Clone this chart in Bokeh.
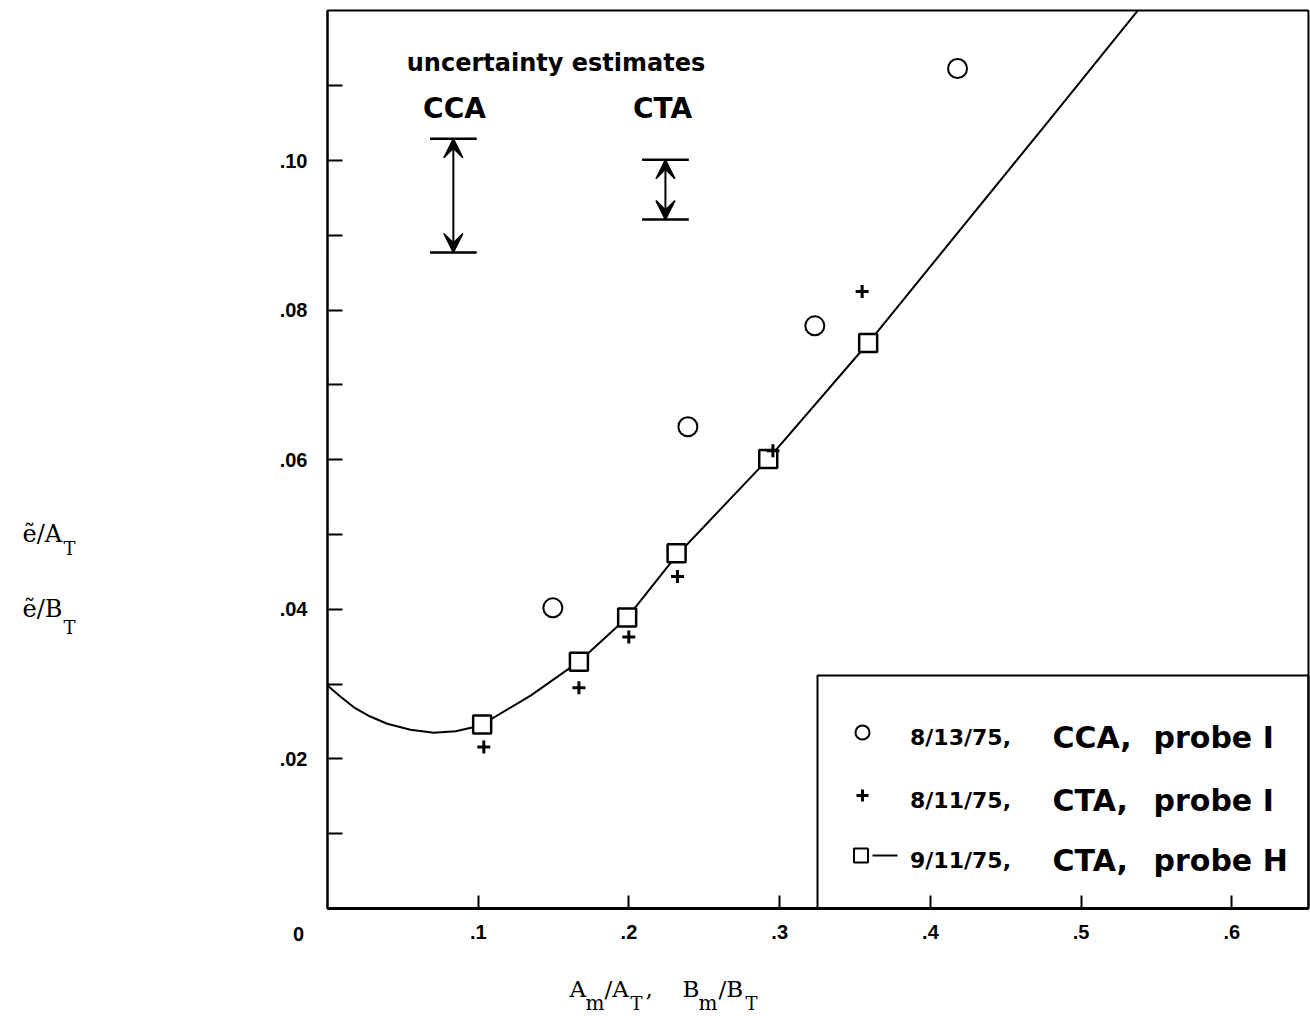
from bokeh.plotting import figure
from bokeh.models import (Range1d, FixedTicker, Label, Arrow, VeeHead,
                          BoxAnnotation, ColumnDataSource)
from bokeh.embed import file_html
from bokeh.resources import INLINE

# ---------------- data ----------------
# 8/13/75, CCA, probe I  (circles)
cca_x = [0.1495, 0.2391, 0.3233, 0.4180]
cca_y = [0.0402, 0.0644, 0.0779, 0.1123]
# 8/11/75, CTA, probe I  (plus signs)
ctai_x = [0.1037, 0.1668, 0.1999, 0.2322, 0.2955, 0.3547]
ctai_y = [0.0216, 0.0295, 0.0363, 0.0444, 0.0612, 0.0825]
# 9/11/75, CTA, probe H  (squares + curve)
ctah_x = [0.1026, 0.1668, 0.1988, 0.2316, 0.2924, 0.3587]
ctah_y = [0.0246, 0.0330, 0.0389, 0.0475, 0.0601, 0.0756]
# faired curve through probe H data
curve_x = [0.0, 0.0087, 0.0175, 0.0280, 0.0396, 0.0550, 0.0705, 0.0850,
           0.0960, 0.1026, 0.1350, 0.1668, 0.1988, 0.2316, 0.2924, 0.3587,
           0.4797, 0.5374]
curve_y = [0.0298, 0.0283, 0.0269, 0.0257, 0.0247, 0.0239, 0.0235, 0.0237,
           0.0242, 0.0246, 0.0285, 0.0330, 0.0389, 0.0472, 0.0601, 0.0756,
           0.1056, 0.1200]
# uncertainty estimates
unc_names = ["CCA", "CTA"]
unc_x = [0.0835, 0.2242]
unc_lo = [0.0877, 0.0921]
unc_hi = [0.1029, 0.1001]
# ticks
x_ticks = [0.1, 0.2, 0.3, 0.4, 0.5, 0.6]
x_tick_labels = [".1", ".2", ".3", ".4", ".5", ".6"]
y_ticks = [0.01, 0.02, 0.03, 0.04, 0.05, 0.06, 0.07, 0.08, 0.09, 0.10, 0.11]
y_tick_labels = ["", ".02", "", ".04", "", ".06", "", ".08", "", ".10", ""]
# legend
legend_dates = ["8/13/75,", "8/11/75,", "9/11/75,"]
legend_methods = ["CCA,", "CTA,", "CTA,"]
legend_probes = ["probe I", "probe I", "probe H"]

X_MAX, Y_MAX = 0.6508, 0.12005   # extent of the plotting box

# ---------------- layout helpers ----------------
X0_PX, XS = 327.0, 1507.3      # page pixel of x=0, pixels per unit
Y0_PX, YS = 908.0, 7480.0      # page pixel of y=0, pixels per unit
OFF = 0                        # page offset of the canvas


def px2x(px):
    return (px - X0_PX) / XS


def px2y(py):
    return (Y0_PX - py) / YS


W, H = 1310, 1018
p = figure(width=W, height=H, output_backend="svg", toolbar_location=None,
           x_range=Range1d(px2x(OFF), px2x(OFF + W)),
           y_range=Range1d(px2y(OFF + H), px2y(OFF)),
           min_border=0)
p.grid.visible = False
p.outline_line_color = None
p.background_fill_color = "white"
p.border_fill_color = "white"

TICK_FONT = "Liberation Sans"
LETTER_FONT = "DejaVu Sans"
SERIF_FONT = "DejaVu Serif"

# x axis
p.xaxis.fixed_location = 0
p.xaxis.bounds = (0, X_MAX)
p.xaxis.ticker = FixedTicker(ticks=x_ticks, minor_ticks=[])
p.xaxis.major_label_overrides = dict(zip(x_ticks, x_tick_labels))
p.xaxis.major_tick_in = 13
p.xaxis.major_tick_out = 0
p.xaxis.major_tick_line_width = 2
p.xaxis.axis_line_width = 3
p.xaxis.major_label_standoff = 16
p.xaxis.major_label_text_font = TICK_FONT
p.xaxis.major_label_text_font_style = "bold"
p.xaxis.major_label_text_font_size = "20px"
p.xaxis.major_label_text_color = "black"

# y axis
p.yaxis.fixed_location = 0
p.yaxis.bounds = (0, Y_MAX)
p.yaxis.ticker = FixedTicker(ticks=y_ticks, minor_ticks=[])
p.yaxis.major_label_overrides = dict(zip(y_ticks, y_tick_labels))
p.yaxis.major_tick_in = 15
p.yaxis.major_tick_out = 0
p.yaxis.major_tick_line_width = 2
p.yaxis.axis_line_width = 2
p.yaxis.major_label_standoff = 20
p.yaxis.major_label_text_font = TICK_FONT
p.yaxis.major_label_text_font_style = "bold"
p.yaxis.major_label_text_font_size = "20px"
p.yaxis.major_label_text_color = "black"

# plotting box (top and right edges)
p.add_layout(BoxAnnotation(left=0, right=X_MAX, bottom=0, top=Y_MAX,
                           fill_color=None, line_color="black",
                           line_alpha=1, line_width=2, level="underlay"))

# ---------------- data glyphs ----------------
p.line(curve_x, curve_y, line_color="black", line_width=2)
p.scatter(cca_x, cca_y, marker="circle", size=19, fill_color="white",
          line_color="black", line_width=2)
p.scatter(ctah_x, ctah_y, marker="square", size=18, fill_color="white",
          line_color="black", line_width=2.5)
p.scatter(ctai_x, ctai_y, marker="cross", size=13, line_color="black",
          line_width=3)

# ---------------- uncertainty bars ----------------
cap_half = 0.0155
usrc = ColumnDataSource(dict(
    x=unc_x, lo=unc_lo, hi=unc_hi,
    x0=[v - cap_half for v in unc_x], x1=[v + cap_half for v in unc_x]))
p.segment(x0="x0", y0="hi", x1="x1", y1="hi", source=usrc,
          line_color="black", line_width=2.5)
p.segment(x0="x0", y0="lo", x1="x1", y1="lo", source=usrc,
          line_color="black", line_width=2.5)


def head():
    return VeeHead(size=19, fill_color="black", fill_alpha=1,
                   line_color="black", line_alpha=1, line_width=1.5)


p.add_layout(Arrow(start=head(), end=head(),
                   x_start="x", y_start="lo", x_end="x", y_end="hi",
                   source=usrc, line_color="black", line_width=2))


def lab(text, px, py, size, font, align="left", style="bold",
        baseline="alphabetic"):
    p.add_layout(Label(x=px2x(px), y=px2y(py), text=text, text_font=font,
                       text_font_size=f"{size}px", text_font_style=style,
                       text_align=align, text_baseline=baseline,
                       text_color="black"))


lab("uncertainty estimates", 555.5, 62, 24, LETTER_FONT, align="center")
lab(unc_names[0], 454, 108, 28, LETTER_FONT, align="center")
lab(unc_names[1], 662, 108, 28, LETTER_FONT, align="center")

# ---------------- legend ----------------
p.add_layout(BoxAnnotation(left=px2x(817), right=X_MAX, bottom=0,
                           top=px2y(675), fill_color=None,
                           line_color="black", line_alpha=1, line_width=2))
p.scatter([px2x(862)], [px2y(732)], marker="circle", size=14,
          fill_color="white", line_color="black", line_width=2)
p.scatter([px2x(862)], [px2y(795)], marker="cross", size=12,
          line_color="black", line_width=3)
p.scatter([px2x(860.5)], [px2y(855)], marker="square", size=14,
          fill_color="white", line_color="black", line_width=2)
p.line([px2x(872), px2x(897)], [px2y(855), px2y(855)], line_color="black",
       line_width=2)
row_base = [737, 800, 860]
for i in range(3):
    lab(legend_dates[i], 960, row_base[i], 22, LETTER_FONT, align="center")
    lab(legend_methods[i], 1052, row_base[i], 30, LETTER_FONT)
    lab(legend_probes[i], 1153, row_base[i], 30, LETTER_FONT)

# origin label
lab("0", 298, 933, 20, TICK_FONT, align="center", baseline="middle")

# ---------------- axis titles (typewriter style with subscripts) ----------------
# y title
lab("ẽ/A", 22, 533, 24, SERIF_FONT, style="normal")
lab("T", 63, 548, 18, SERIF_FONT, style="normal")
lab("ẽ/B", 22, 608, 24, SERIF_FONT, style="normal")
lab("T", 63, 627, 18, SERIF_FONT, style="normal")
# x title
lab("A", 569, 988, 23, SERIF_FONT, style="normal")
lab("m", 585, 1002, 20, SERIF_FONT, style="normal")
lab("/A", 604, 988, 23, SERIF_FONT, style="normal")
lab("T", 630, 1003, 18, SERIF_FONT, style="normal")
lab(",", 645, 988, 23, SERIF_FONT, style="normal")
lab("B", 682, 988, 23, SERIF_FONT, style="normal")
lab("m", 698, 1002, 20, SERIF_FONT, style="normal")
lab("/B", 718, 988, 23, SERIF_FONT, style="normal")
lab("T", 745, 1003, 18, SERIF_FONT, style="normal")

open("out.html", "w").write(file_html(p, INLINE))
